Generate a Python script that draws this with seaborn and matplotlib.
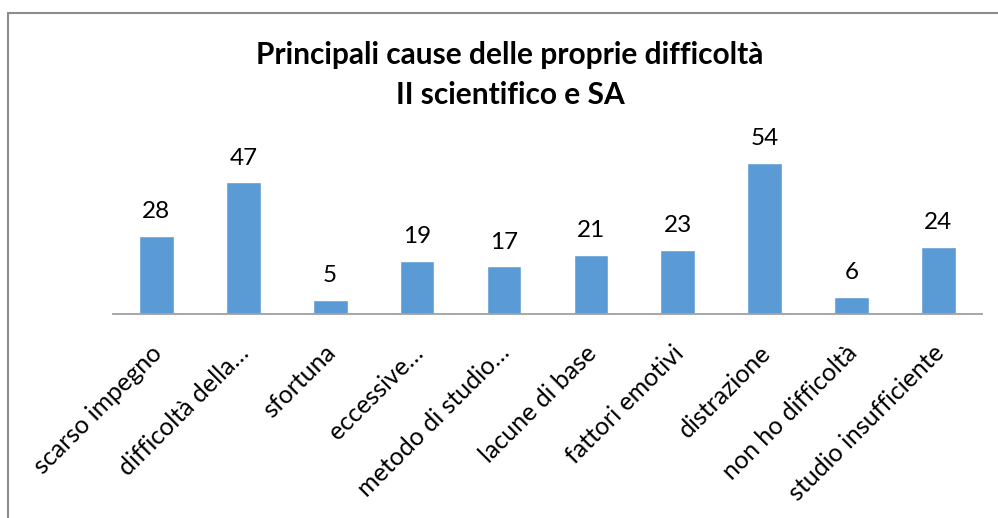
import matplotlib
matplotlib.use('Agg')
import matplotlib.pyplot as plt
import seaborn as sns
import pandas as pd
from matplotlib.patches import Rectangle
import matplotlib.transforms as mtransforms

# Data
categories = ['scarso impegno', 'difficoltà della…', 'sfortuna', 'eccessive…',
              'metodo di studio…', 'lacune di base', 'fattori emotivi',
              'distrazione', 'non ho difficoltà', 'studio insufficiente']
values = [28, 47, 5, 19, 17, 21, 23, 54, 6, 24]
title_lines = ['Principali cause delle proprie difficoltà', 'II scientifico e SA']

df = pd.DataFrame({'causa': categories, 'n': values})

sns.set_style('white')
plt.rcParams['font.family'] = ['Lato', 'DejaVu Sans']
plt.rcParams['text.color'] = 'black'
plt.rcParams['xtick.color'] = 'black'

fig = plt.figure(figsize=(9.98, 5.18), dpi=100)
ax = fig.add_axes([0.1132, 0.3938, 0.8707, 0.3243])

sns.barplot(data=df, x='causa', y='n', color='#5B9BD5', width=0.40,
            saturation=1, ax=ax)

ax.set_ylim(0, 60)
ax.set_xlim(-0.5, len(categories) - 0.5)
ax.set_xlabel('')
ax.set_ylabel('')
ax.set_yticks([])
for s in ['top', 'left', 'right']:
    ax.spines[s].set_visible(False)
ax.spines['bottom'].set_color('#A0A0A0')
ax.spines['bottom'].set_linewidth(1.3)
ax.tick_params(axis='x', length=0, pad=8)

# value labels
for c in ax.containers:
    ax.bar_label(c, labels=[str(v) for v in values], padding=10, fontsize=17.5,
                 color='black')

# rotated tick labels
ax.set_xticks(range(len(categories)))
ax.set_xticklabels(categories, rotation=45, ha='right', va='center',
                   rotation_mode='anchor', fontsize=18, color='black')
offset = mtransforms.ScaledTranslation(2 / 100, -24 / 100, fig.dpi_scale_trans)
for lbl in ax.get_xticklabels():
    lbl.set_transform(lbl.get_transform() + offset)

# title
fig.text(0.511, 1 - 55 / 518, title_lines[0], ha='center', va='center',
         fontsize=21.5, fontweight='bold', color='black')
fig.text(0.511, 1 - 95 / 518, title_lines[1], ha='center', va='center',
         fontsize=21.5, fontweight='bold', color='black')

# chart frame
fig.patches.append(Rectangle((8 / 998, -0.1), 1.2, 1 - 13 / 518 + 0.1,
                             transform=fig.transFigure, fill=False,
                             edgecolor='#8C8C8C', linewidth=1.5))

fig.savefig('out.png', dpi=100)
